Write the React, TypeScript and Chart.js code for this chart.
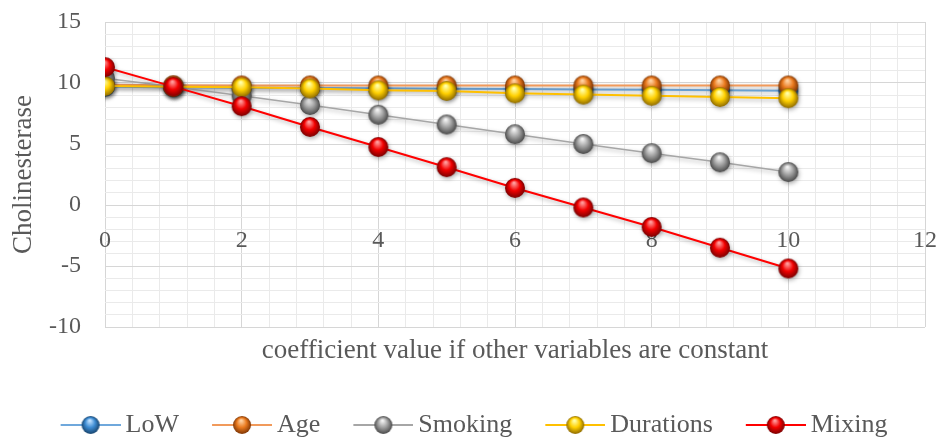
import React, { useEffect, useRef } from 'react';
import { Chart, registerables } from 'chart.js';

Chart.register(...registerables);

// ---------- data ----------
const xValues = [0, 1, 2, 3, 4, 5, 6, 7, 8, 9, 10];
const seriesNames = ['LoW', 'Age', 'Smoking', 'Durations', 'Mixing'];
const lowValues = [9.7, 9.66, 9.62, 9.59, 9.56, 9.53, 9.5, 9.47, 9.44, 9.4, 9.37];
const ageValues = [9.85, 9.82, 9.8, 9.8, 9.8, 9.8, 9.8, 9.8, 9.8, 9.8, 9.8];
const smokingValues = [10.4, 9.7, 8.95, 8.2, 7.4, 6.6, 5.8, 5.0, 4.25, 3.5, 2.7];
const durationsValues = [9.75, 9.7, 9.65, 9.55, 9.4, 9.35, 9.15, 9.05, 8.95, 8.85, 8.75];
const mixingValues = [11.3, 9.7, 8.1, 6.4, 4.75, 3.1, 1.4, -0.2, -1.8, -3.5, -5.2];
const xTickLabels = [0, 2, 4, 6, 8, 10, 12];
const yTickLabels = [-10, -5, 0, 5, 10, 15];
const xTitle = 'coefficient value if other variables are constant';
const yTitle = 'Cholinesterase';

// ---------- styles ----------
const FONT = "'Liberation Serif', 'Times New Roman', serif";
const TEXT = '#595959';
const MAJOR_GRID = '#D6D6D6';
const MINOR_GRID = '#EAEAEA';
const lineColors = ['#6FA8DC', '#F19A5B', '#A6A6A6', '#FFC000', '#FF0000'];
const lineWidths = [2, 2, 1.5, 2, 2];
const ballColors = [
  { light: '#BFE0FF', base: '#3E8DD4', dark: '#17446E' },
  { light: '#FFD1A0', base: '#EA7A1E', dark: '#7F3604' },
  { light: '#F2F2F2', base: '#A0A0A0', dark: '#4A4A4A' },
  { light: '#FFFFA8', base: '#FFD000', dark: '#8F6B00' },
  { light: '#FF9A9A', base: '#F20000', dark: '#7A0000' },
];

type BallColor = { light: string; base: string; dark: string };

function drawBall(ctx: CanvasRenderingContext2D, cx: number, cy: number, r: number, c: BallColor) {
  const g = ctx.createRadialGradient(cx - r * 0.1, cy - r * 0.5, r * 0.08, cx, cy, r);
  g.addColorStop(0, c.light);
  g.addColorStop(0.5, c.base);
  g.addColorStop(1, c.dark);
  ctx.beginPath();
  ctx.arc(cx, cy, r, 0, Math.PI * 2);
  ctx.fillStyle = g;
  ctx.fill();
}

function makePointSprite(c: BallColor, r: number) {
  const s = document.createElement('canvas');
  const size = Math.ceil(r * 2 + 2);
  s.width = size;
  s.height = size;
  const ctx = s.getContext('2d')!;
  drawBall(ctx, size / 2, size / 2, r, c);
  return s;
}

function makeLegendSprite(c: BallColor, lineColor: string, W: number, sampleW: number, r: number) {
  const s = document.createElement('canvas');
  const H = Math.ceil(r * 2 + 4);
  s.width = W;
  s.height = H;
  const ctx = s.getContext('2d')!;
  const x0 = W - sampleW;
  ctx.strokeStyle = lineColor;
  ctx.lineWidth = 2;
  ctx.beginPath();
  ctx.moveTo(x0, H / 2);
  ctx.lineTo(W, H / 2);
  ctx.stroke();
  drawBall(ctx, x0 + sampleW / 2, H / 2, r, c);
  return s;
}

const near = (v: number, list: number[]) => list.some((t) => Math.abs(t - v) < 1e-6);

const shadowPlugin = {
  id: 'seriesShadow',
  beforeDatasetDraw(chart: any) {
    const ctx = chart.ctx;
    ctx.save();
    ctx.shadowColor = 'rgba(0,0,0,0.3)';
    ctx.shadowBlur = 4;
    ctx.shadowOffsetX = 1;
    ctx.shadowOffsetY = 2;
  },
  afterDatasetDraw(chart: any) {
    chart.ctx.restore();
  },
};

export default function App() {
  const ref = useRef<HTMLCanvasElement | null>(null);

  useEffect(() => {
    document.body.style.margin = '0';
    const canvas = ref.current;
    if (!canvas) return;

    const allValues = [lowValues, ageValues, smokingValues, durationsValues, mixingValues];
    const pointSprites = ballColors.map((c) => makePointSprite(c, 10));
    const BW = 75;
    const legendSprites = ballColors.map((c, i) => makeLegendSprite(c, lineColors[i], BW + 16, 60, 9));

    const datasets = seriesNames.map((name, i) => ({
      label: name,
      data: xValues.map((x, j) => ({ x, y: allValues[i][j] })),
      borderColor: lineColors[i],
      backgroundColor: lineColors[i],
      borderWidth: lineWidths[i],
      pointStyle: pointSprites[i] as any,
      pointRadius: 10,
      tension: 0,
      order: seriesNames.length - i,
    }));

    const isMajorX = (v: number) => near(v, xTickLabels);
    const isMajorY = (v: number) => near(v, yTickLabels);

    const chart = new Chart(canvas, {
      type: 'line',
      data: { datasets },
      plugins: [shadowPlugin],
      options: {
        animation: false,
        responsive: false,
        layout: { padding: { left: 0, right: 16, top: 22, bottom: 0 } },
        plugins: {
          tooltip: { enabled: false },
          legend: {
            display: true,
            position: 'bottom',
            maxHeight: 38,
            labels: {
              usePointStyle: true,
              pointStyleWidth: BW,
              padding: 10,
              color: TEXT,
              font: { family: FONT, size: 26 },
              sort: (a: any, b: any) => a.datasetIndex - b.datasetIndex,
              generateLabels: (ch: any) => {
                const items = Chart.defaults.plugins.legend.labels.generateLabels(ch);
                return items.map((it: any) => ({ ...it, pointStyle: legendSprites[it.datasetIndex] }));
              },
            },
          },
        },
        scales: {
          x: {
            type: 'linear',
            position: { y: 0 } as any,
            min: 0,
            max: 12,
            border: { display: false },
            afterFit: (s: any) => {
              s.paddingLeft = 0;
              s.paddingRight = 0;
            },
            grid: {
              drawTicks: false,
              color: (c: any) => (isMajorX(c.tick.value) ? MAJOR_GRID : MINOR_GRID),
              lineWidth: 1,
            },
            ticks: {
              stepSize: 0.4,
              autoSkip: false,
              maxRotation: 0,
              padding: 21,
              color: TEXT,
              font: { family: FONT, size: 24 },
              callback: (v: any) => (isMajorX(Number(v)) ? String(Math.round(Number(v))) : ''),
            },
          },
          xTitleAxis: {
            type: 'linear',
            axis: 'x',
            position: 'bottom',
            min: 0,
            max: 12,
            border: { display: false },
            grid: { display: false },
            ticks: { display: false },
            afterFit: (s: any) => {
              s.height = 75;
              s.paddingLeft = 0;
              s.paddingRight = 0;
            },
            title: {
              display: true,
              text: xTitle,
              color: TEXT,
              font: { family: FONT, size: 27 },
              padding: { top: 8, bottom: 35 },
            },
          } as any,
          y: {
            type: 'linear',
            min: -10,
            max: 15,
            border: { display: false },
            afterFit: (s: any) => {
              s.width = 105;
              s.paddingTop = 0;
              s.paddingBottom = 0;
            },
            grid: {
              drawTicks: false,
              color: (c: any) => (isMajorY(c.tick.value) ? MAJOR_GRID : MINOR_GRID),
              lineWidth: 1,
            },
            ticks: {
              stepSize: 1,
              autoSkip: false,
              padding: 24,
              color: TEXT,
              font: { family: FONT, size: 24 },
              callback: (v: any) => (isMajorY(Number(v)) ? String(Math.round(Number(v))) : ''),
            },
            title: {
              display: true,
              text: yTitle,
              color: TEXT,
              font: { family: FONT, size: 27 },
              padding: { top: 8, bottom: 0 },
            },
          },
        },
      },
    });

    return () => chart.destroy();
  }, []);

  return (
    <div style={{ width: 941, height: 440 }}>
      <canvas ref={ref} width={941} height={440} style={{ display: 'block' }} />
    </div>
  );
}
